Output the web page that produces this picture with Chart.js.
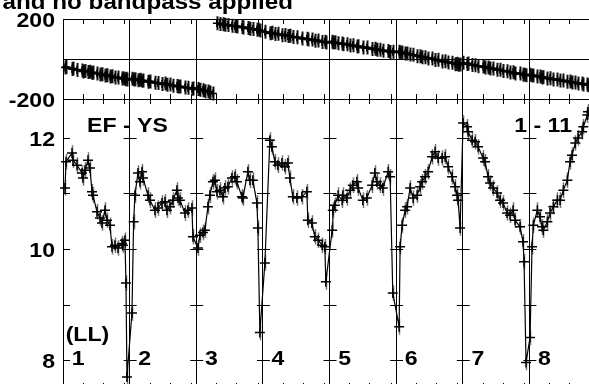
<!DOCTYPE html>
<html>
<head>
<meta charset="utf-8">
<script src="https://cdn.jsdelivr.net/npm/chart.js@4.4.0/dist/chart.umd.min.js"></script>
<style>
  html, body { margin: 0; padding: 0; width: 589px; height: 384px; overflow: hidden; background: #fff; }
  canvas { position: absolute; left: 0; }
  #phase { top: 0; z-index: 2; }
  #amp { top: 99px; z-index: 1; }
</style>
</head>
<body>
<canvas id="phase" width="600" height="120"></canvas>
<canvas id="amp" width="600" height="290"></canvas>
<script>
// sample times, one unit per scan
var timeX = [
    0.03, 0.045, 0.135, 0.15, 0.21, 0.285, 0.30, 0.33, 0.375, 0.405, 0.435, 0.45, 0.51, 0.555, 0.585, 0.63, 0.66, 0.705, 0.735, 0.78, 0.825, 0.885, 0.90, 0.93, 0.945, 0.96,
    1.035, 1.06, 1.08, 1.125, 1.155, 1.185, 1.2, 1.275, 1.305, 1.38, 1.425, 1.485, 1.53, 1.56, 1.605, 1.65, 1.71, 1.725, 1.755, 1.83, 1.875, 1.935, 1.95,
    2.025, 2.055, 2.1, 2.13, 2.175, 2.205, 2.25, 2.28, 2.31, 2.355, 2.4, 2.43, 2.475, 2.535, 2.58, 2.61, 2.685, 2.70, 2.775, 2.805, 2.85, 2.91, 2.925, 2.955,
    3.03, 3.105, 3.135, 3.18, 3.225, 3.285, 3.33, 3.375, 3.405, 3.45, 3.51, 3.585, 3.66, 3.675, 3.735, 3.78, 3.83, 3.89, 3.93, 3.945,
    4.04, 4.05, 4.08, 4.13, 4.19, 4.2, 4.26, 4.31, 4.35, 4.41, 4.43, 4.5, 4.56, 4.64, 4.68, 4.71, 4.76, 4.8, 4.88, 4.91, 4.95,
    5.045, 5.06, 5.09, 5.135, 5.165, 5.21, 5.255, 5.315, 5.36, 5.39, 5.435, 5.48, 5.54, 5.585, 5.63, 5.69, 5.735, 5.78, 5.84, 5.885, 5.915, 5.93, 5.96,
    6.005, 6.065, 6.08, 6.14, 6.185, 6.23, 6.305, 6.335, 6.38, 6.41, 6.455, 6.515, 6.56, 6.605, 6.665, 6.71, 6.755, 6.785, 6.86, 6.905, 6.92, 6.95,
    7.01, 7.04, 7.06, 7.12, 7.16, 7.19, 7.21, 7.27, 7.31, 7.36, 7.42, 7.46, 7.51, 7.57, 7.61, 7.64, 7.69, 7.73, 7.79, 7.81, 7.87, 7.88
];
var ampY = [
    11.10, 11.57, 11.73, 11.60, 11.51, 11.37, 11.28, 11.42, 11.60, 11.46, 11.03, 10.97, 10.67, 10.56, 10.47, 10.70, 10.52, 10.43, 10.04, 10.07, 10.02, 10.10, 10.07, 10.16, 9.39, 7.70,
    8.85, 10.49, 10.97, 11.37, 11.21, 11.39, 11.28, 10.97, 10.88, 10.70, 10.74, 10.83, 10.85, 10.70, 10.76, 10.88, 11.06, 10.92, 10.88, 10.65, 10.70, 10.74, 10.22,
    10.02, 10.25, 10.30, 10.34, 10.76, 10.97, 11.21, 11.24, 11.03, 11.06, 10.94, 11.10, 11.12, 11.28, 11.30, 11.21, 10.94, 10.92, 11.39, 11.24, 11.24, 10.83, 10.38, 8.50,
    9.75, 11.96, 11.84, 11.57, 11.51, 11.55, 11.48, 11.55, 11.28, 10.94, 10.92, 10.94, 11.03, 10.52, 10.47, 10.22, 10.16, 10.07, 10.04, 9.41,
    10.34, 10.70, 10.79, 10.97, 10.88, 10.97, 10.92, 11.06, 11.15, 11.21, 11.10, 10.88, 10.92, 11.15, 11.37, 11.21, 11.15, 11.10, 11.39, 11.30, 9.21,
    8.60, 10.04, 10.43, 10.70, 10.76, 11.10, 10.92, 10.97, 11.12, 11.21, 11.30, 11.39, 11.66, 11.75, 11.64, 11.64, 11.66, 11.48, 11.30, 11.12, 10.97, 10.88, 10.38,
    12.27, 12.20, 12.11, 11.96, 11.93, 11.84, 11.64, 11.57, 11.30, 11.19, 11.10, 11.01, 10.88, 10.83, 10.65, 10.61, 10.70, 10.52, 10.40, 10.13, 9.77, 7.96,
    8.41, 10.04, 10.43, 10.70, 10.58, 10.40, 10.34, 10.49, 10.65, 10.76, 10.88, 10.88, 11.06, 11.24, 11.57, 11.69, 11.91, 12.00, 12.11, 12.20, 12.41, 12.47
];
var phaseY = [
    -42, -40, -50, -48, -55, -57, -62, -60, -65, -64, -70, -68, -72, -78, -76, -82, -81, -87, -86, -92, -93, -98, -96, -101, -99, -103,
    -99, -102, -101, -106, -104, -109, -108, -114, -112, -119, -120, -125, -123, -129, -128, -134, -135, -138, -137, -143, -144, -149, -147,
    -150, -154, -156, -161, -163, -168, -172, null, 179, 175, 174, 171, 170, 166, 165, 162, 160, 157, 155, 151, 150, 146, 147, 143,
    136, 129, 131, 125, 126, 119, 120, 115, 116, 110, 109, 102, 101, 97, 97, 91, 92, 85, 86, 82,
    86, 83, 84, 79, 78, 74, 74, 68, 69, 63, 64, 58, 57, 50, 51, 46, 46, 41, 40, 35, 36,
    36, 32, 33, 27, 28, 22, 21, 14, 14, 9, 9, 3, 2, -5, -4, -12, -11, -18, -19, -26, -24, -29, -28,
    -19, -25, -23, -30, -31, -36, -38, -43, -43, -47, -48, -54, -54, -60, -61, -67, -66, -72, -73, -79, -77, -81,
    -79, -83, -82, -88, -88, -92, -90, -97, -96, -102, -102, -108, -107, -114, -113, -118, -118, -123, -123, -128, -128, -131
];
var ampErr = 0.14;
var phaseErr = 35;

var phaseTicks = [-200, 0, 200];
var phaseLabels = [-200, 200];
var ampTicks = [8, 9, 10, 11, 12];
var ampLabels = [8, 10, 12];
var scanLabels = ["1", "2", "3", "4", "5", "6", "7", "8"];
var titleText = "al and no bandpass applied";

var FONT = '"Liberation Sans", Arial, sans-serif';

function points(ys) {
    return timeX.map(function (x, i) {
        return { x: x, y: ys[i] };
    });
}

// bold text, a bit wider than the font (like the original plot)
function wideText(ctx, text, x, y, size, align) {
    ctx.save();
    ctx.font = "bold " + size + "px " + FONT;
    ctx.fillStyle = "#000";
    ctx.textBaseline = "alphabetic";
    var w = ctx.measureText(text).width * 1.1;
    var left = align === "right" ? x - w : x;
    ctx.translate(left, y);
    ctx.scale(1.1, 1);
    ctx.fillText(text, 0, 0);
    ctx.restore();
}

function errorBars(values, err, color, width) {
    return {
        id: "errorBars",
        beforeDatasetsDraw: function (chart) {
            var xs = chart.scales.x, ys = chart.scales.y, ctx = chart.ctx;
            ctx.save();
            ctx.strokeStyle = color;
            ctx.lineWidth = width;
            ctx.beginPath();
            values.forEach(function (v, i) {
                if (v === null) return;
                var px = Math.round(xs.getPixelForValue(timeX[i])) + 0.5;
                ctx.moveTo(px, ys.getPixelForValue(v + err));
                ctx.lineTo(px, ys.getPixelForValue(v - err));
            });
            ctx.stroke();
            ctx.restore();
        },
    };
}

// minor time ticks inside the frame
function minorTicks(top, bottom) {
    return {
        id: "minorTicks",
        afterDraw: function (chart) {
            var xs = chart.scales.x, a = chart.chartArea, ctx = chart.ctx;
            ctx.save();
            ctx.strokeStyle = "#000";
            ctx.lineWidth = 1;
            ctx.beginPath();
            for (var k = 0; k < 8; k++) {
                [0.3, 0.6, 0.92].forEach(function (o) {
                    var px = Math.round(xs.getPixelForValue(k + o)) + 0.5;
                    if (top) { ctx.moveTo(px, a.top); ctx.lineTo(px, a.top + 5); }
                    if (bottom) { ctx.moveTo(px, a.bottom); ctx.lineTo(px, a.bottom - 5); }
                });
            }
            ctx.stroke();
            ctx.restore();
        },
    };
}

function baseScales(yMin, yMax) {
    return {
        x: {
            type: "linear",
            min: 0,
            max: 8,
            ticks: { display: false, stepSize: 1 },
            grid: { color: "#000", lineWidth: 1, drawTicks: false },
            border: { display: false },
            afterFit: function (s) { s.height = 0; },
        },
        y: {
            min: yMin,
            max: yMax,
            ticks: { display: false },
            border: { color: "#000" },
            afterFit: function (s) { s.width = 63; },
        },
    };
}

var phaseScales = baseScales(-200, 200);
phaseScales.y.afterBuildTicks = function (s) {
    s.ticks = phaseTicks.map(function (v) { return { value: v }; });
};
phaseScales.y.grid = { color: "#000", lineWidth: 1, drawTicks: false };

new Chart(document.getElementById("phase"), {
    type: "line",
    data: {
        datasets: [
            {
                data: points(phaseY),
                borderColor: "#000",
                borderWidth: 3,
                pointStyle: "cross",
                pointRadius: 4,
                pointBorderColor: "#000",
                pointBorderWidth: 1.5,
                spanGaps: false,
                clip: false,
            },
        ],
    },
    options: {
        responsive: false,
        animation: false,
        devicePixelRatio: 1,
        layout: { autoPadding: false, padding: { top: 19, bottom: 21, left: 0, right: 4 } },
        plugins: { legend: { display: false }, tooltip: { enabled: false } },
        scales: phaseScales,
    },
    plugins: [
        errorBars(phaseY, phaseErr, "#111", 2),
        minorTicks(true, true),
        {
            id: "phaseText",
            afterDraw: function (chart) {
                var ys = chart.scales.y, ctx = chart.ctx;
                phaseLabels.forEach(function (v) {
                    wideText(ctx, String(v), chart.chartArea.left - 8, ys.getPixelForValue(v) + 8, 21, "right");
                });
                wideText(ctx, titleText, 293, 9, 22, "right");
            },
        },
    ],
});

var ampScales = baseScales(7.5, 12.7);
ampScales.y.grid = { display: false };

new Chart(document.getElementById("amp"), {
    type: "line",
    data: {
        datasets: [
            {
                data: points(ampY),
                borderColor: "#000",
                borderWidth: 1.2,
                pointStyle: "cross",
                pointRadius: 5,
                pointBorderColor: "#000",
                pointBorderWidth: 1.5,
                clip: false,
            },
        ],
    },
    options: {
        responsive: false,
        animation: false,
        devicePixelRatio: 1,
        layout: { autoPadding: false, padding: { top: 0, bottom: 1, left: 0, right: 4 } },
        plugins: { legend: { display: false }, tooltip: { enabled: false } },
        scales: ampScales,
    },
    plugins: [
        errorBars(ampY, ampErr, "#777", 1.5),
        minorTicks(true, true),
        {
            id: "ampText",
            afterDraw: function (chart) {
                var xs = chart.scales.x, ys = chart.scales.y, ctx = chart.ctx;
                // value ticks on every scan boundary
                ctx.save();
                ctx.strokeStyle = "#000";
                ctx.lineWidth = 1;
                ctx.beginPath();
                for (var k = 0; k < 8; k++) {
                    var px = xs.getPixelForValue(k);
                    ampTicks.forEach(function (v) {
                        var py = Math.round(ys.getPixelForValue(v)) + 0.5;
                        ctx.moveTo(k === 0 ? px : px - 6, py);
                        ctx.lineTo(px + 7, py);
                    });
                }
                ctx.stroke();
                ctx.restore();

                ampLabels.forEach(function (v) {
                    wideText(ctx, String(v), chart.chartArea.left - 8, ys.getPixelForValue(v) + 8, 21, "right");
                });
                scanLabels.forEach(function (t, k) {
                    wideText(ctx, t, xs.getPixelForValue(k + 0.13), ys.getPixelForValue(7.914), 21, "left");
                });
                wideText(ctx, "(LL)", xs.getPixelForValue(0.04), ys.getPixelForValue(8.346), 21, "left");
                wideText(ctx, "EF - YS", xs.getPixelForValue(0.36), ys.getPixelForValue(12.106), 21, "left");
                wideText(ctx, "1 - 11", xs.getPixelForValue(7.64), ys.getPixelForValue(12.106), 21, "right");
            },
        },
    ],
});
</script>
</body>
</html>
